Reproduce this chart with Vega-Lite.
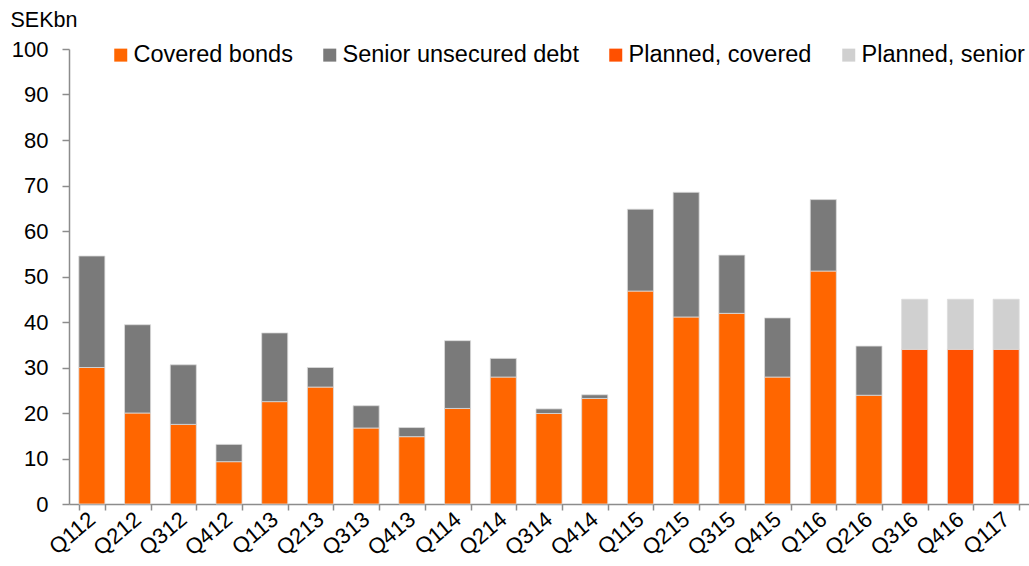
{
  "$schema": "https://vega.github.io/schema/vega-lite/v6.json",
  "autosize": "none",
  "width": 960,
  "height": 455,
  "padding": {"left": 69, "top": 49, "right": 0, "bottom": 62},
  "background": "white",
  "config": {
    "font": "Liberation Sans",
    "view": {"stroke": null}
  },
  "data": {
    "values": [
      {"q": "Q112", "s": "Covered bonds", "v": 30.0},
      {"q": "Q112", "s": "Senior unsecured debt", "v": 24.5},
      {"q": "Q212", "s": "Covered bonds", "v": 20.0},
      {"q": "Q212", "s": "Senior unsecured debt", "v": 19.4},
      {"q": "Q312", "s": "Covered bonds", "v": 17.5},
      {"q": "Q312", "s": "Senior unsecured debt", "v": 13.1},
      {"q": "Q412", "s": "Covered bonds", "v": 9.3},
      {"q": "Q412", "s": "Senior unsecured debt", "v": 3.8},
      {"q": "Q113", "s": "Covered bonds", "v": 22.5},
      {"q": "Q113", "s": "Senior unsecured debt", "v": 15.1},
      {"q": "Q213", "s": "Covered bonds", "v": 25.7},
      {"q": "Q213", "s": "Senior unsecured debt", "v": 4.3},
      {"q": "Q313", "s": "Covered bonds", "v": 16.7},
      {"q": "Q313", "s": "Senior unsecured debt", "v": 4.9},
      {"q": "Q413", "s": "Covered bonds", "v": 14.8},
      {"q": "Q413", "s": "Senior unsecured debt", "v": 2.0},
      {"q": "Q114", "s": "Covered bonds", "v": 21.0},
      {"q": "Q114", "s": "Senior unsecured debt", "v": 14.9},
      {"q": "Q214", "s": "Covered bonds", "v": 27.9},
      {"q": "Q214", "s": "Senior unsecured debt", "v": 4.1},
      {"q": "Q314", "s": "Covered bonds", "v": 19.9},
      {"q": "Q314", "s": "Senior unsecured debt", "v": 1.0},
      {"q": "Q414", "s": "Covered bonds", "v": 23.2},
      {"q": "Q414", "s": "Senior unsecured debt", "v": 0.8},
      {"q": "Q115", "s": "Covered bonds", "v": 46.8},
      {"q": "Q115", "s": "Senior unsecured debt", "v": 18.0},
      {"q": "Q215", "s": "Covered bonds", "v": 41.1},
      {"q": "Q215", "s": "Senior unsecured debt", "v": 27.4},
      {"q": "Q315", "s": "Covered bonds", "v": 41.9},
      {"q": "Q315", "s": "Senior unsecured debt", "v": 12.8},
      {"q": "Q415", "s": "Covered bonds", "v": 27.9},
      {"q": "Q415", "s": "Senior unsecured debt", "v": 13.0},
      {"q": "Q116", "s": "Covered bonds", "v": 51.2},
      {"q": "Q116", "s": "Senior unsecured debt", "v": 15.7},
      {"q": "Q216", "s": "Covered bonds", "v": 23.9},
      {"q": "Q216", "s": "Senior unsecured debt", "v": 10.8},
      {"q": "Q316", "s": "Planned, covered", "v": 34.0},
      {"q": "Q316", "s": "Planned, senior", "v": 11.0},
      {"q": "Q416", "s": "Planned, covered", "v": 34.0},
      {"q": "Q416", "s": "Planned, senior", "v": 11.0},
      {"q": "Q117", "s": "Planned, covered", "v": 34.0},
      {"q": "Q117", "s": "Planned, senior", "v": 11.0}
    ]
  },
  "mark": {"type": "bar", "stroke": "#dcdcdc", "strokeWidth": 0.8},
  "encoding": {
    "x": {
      "field": "q",
      "type": "nominal",
      "sort": null,
      "scale": {"paddingInner": 0.43, "paddingOuter": 0.215},
      "axis": {
        "title": null,
        "tickBand": "extent",
        "domainColor": "#8c8c8c",
        "domainWidth": 1.5,
        "tickColor": "#8c8c8c",
        "tickWidth": 1.5,
        "tickSize": 6,
        "labelAngle": -40,
        "labelAlign": "right",
        "labelBaseline": "middle",
        "labelFontSize": 22,
        "labelColor": "#000000",
        "labelPadding": 6
      }
    },
    "y": {
      "field": "v",
      "type": "quantitative",
      "stack": "zero",
      "scale": {"domain": [0, 100]},
      "axis": {
        "values": [0, 10, 20, 30, 40, 50, 60, 70, 80, 90, 100],
        "grid": false,
        "domainColor": "#8c8c8c",
        "domainWidth": 1.5,
        "tickColor": "#8c8c8c",
        "tickWidth": 1.5,
        "tickSize": 7,
        "labelFontSize": 22,
        "labelColor": "#000000",
        "labelPadding": 14,
        "title": "SEKbn",
        "titleAngle": 0,
        "titleFontSize": 21.5,
        "titleFontWeight": "normal",
        "titleColor": "#000000",
        "titleAlign": "left",
        "titleBaseline": "middle",
        "titleX": -59,
        "titleY": -29
      }
    },
    "order": {"field": "s", "type": "nominal", "sort": "ascending"},
    "color": {
      "field": "s",
      "type": "nominal",
      "sort": ["Covered bonds", "Senior unsecured debt", "Planned, covered", "Planned, senior"],
      "scale": {
        "domain": ["Covered bonds", "Senior unsecured debt", "Planned, covered", "Planned, senior"],
        "range": ["#FF6600", "#7A7A7A", "#FF5000", "#D0D0D0"]
      },
      "legend": {
        "title": null,
        "orient": "none",
        "direction": "horizontal",
        "legendX": 40,
        "legendY": -6,
        "symbolType": "square",
        "symbolSize": 169,
        "symbolStrokeWidth": 0,
        "labelFontSize": 23.5,
        "labelColor": "#000000",
        "labelOffset": 1,
        "columnPadding": 25,
        "labelLimit": 400
      }
    }
  }
}
